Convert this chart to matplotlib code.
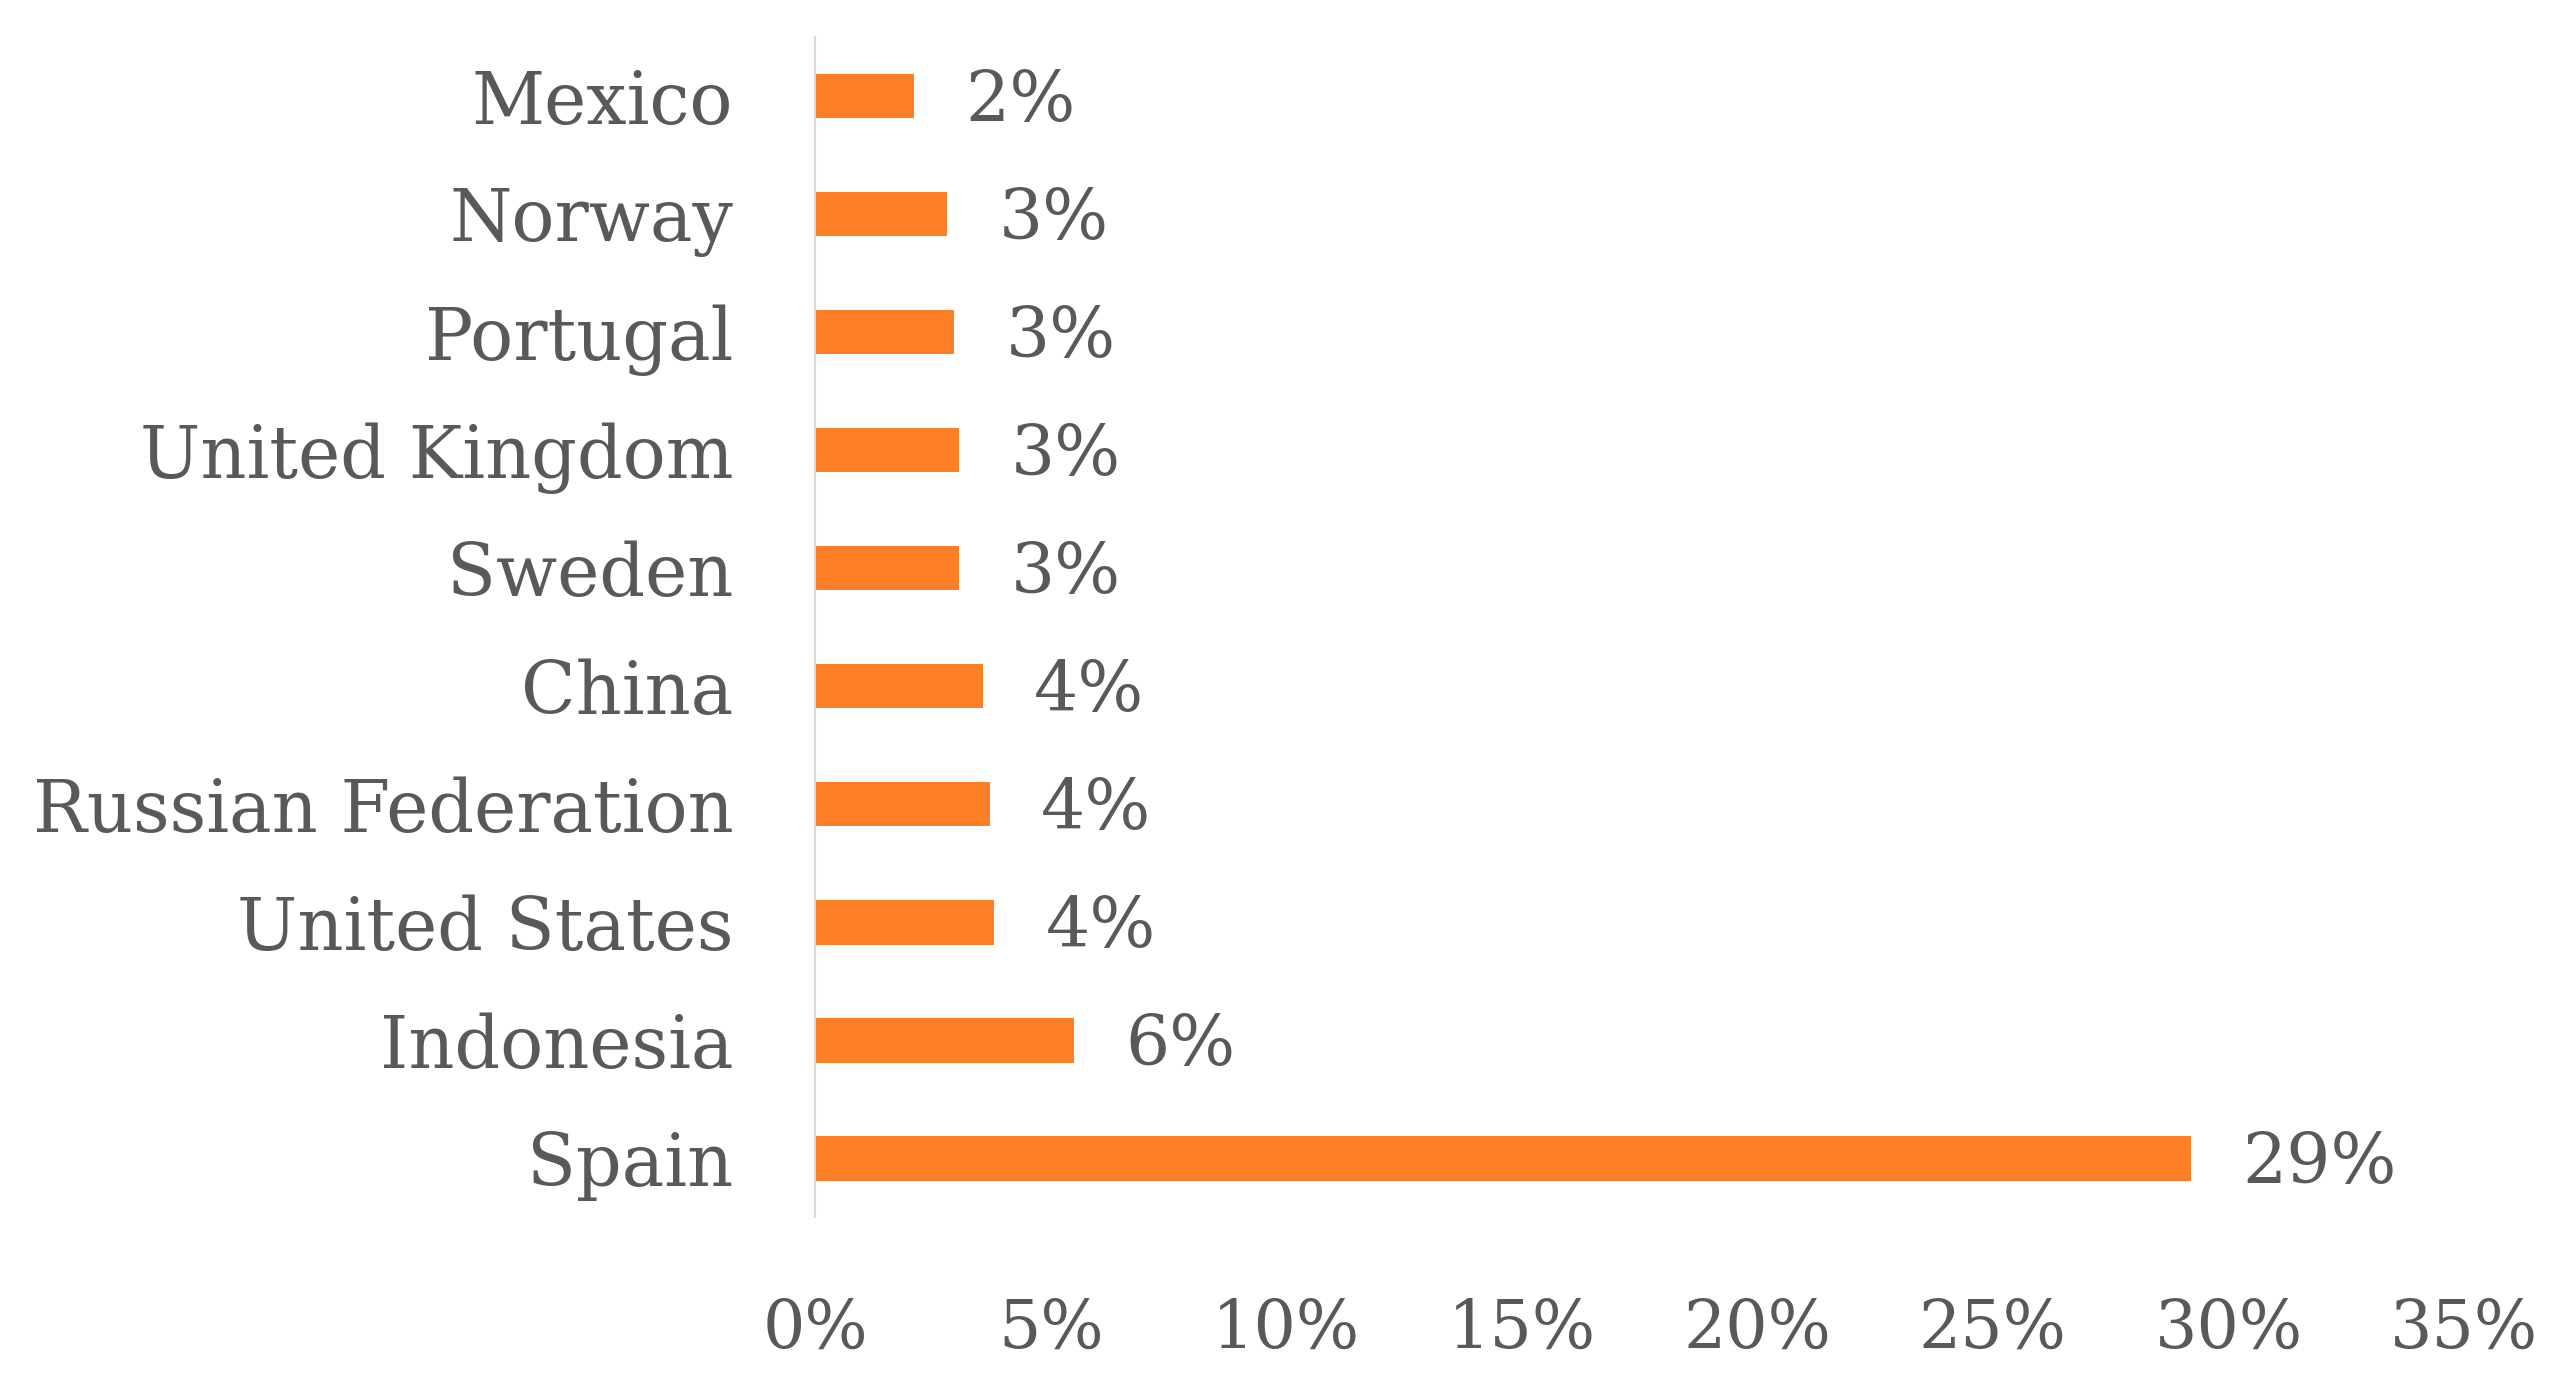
import matplotlib
matplotlib.use("Agg")
import matplotlib.pyplot as plt
from matplotlib.ticker import FuncFormatter

# data (top to bottom as shown)
countries = ["Mexico", "Norway", "Portugal", "United Kingdom", "Sweden",
             "China", "Russian Federation", "United States", "Indonesia", "Spain"]
shares = [2.1, 2.8, 2.95, 3.05, 3.05, 3.55, 3.7, 3.8, 5.5, 29.2]
labels = ["2%", "3%", "3%", "3%", "3%", "4%", "4%", "4%", "6%", "29%"]
xticks = [0, 5, 10, 15, 20, 25, 30, 35]

bar_color = "#FF7F27"
text_color = "#595959"

plt.rcParams["font.family"] = ["DejaVu Serif"]

fig = plt.figure(figsize=(25.72, 13.99), dpi=100)
ax = fig.add_axes([0.317, 0.130, 0.641, 0.8436])

ypos = list(range(len(countries)))
ax.barh(ypos, shares, height=0.38, color=bar_color)

# data labels to the right of each bar
for y, v, lab in zip(ypos, shares, labels):
    ax.annotate(lab, xy=(v, y), xytext=(37, -4), textcoords="offset points",
                ha="left", va="center", fontsize=50, color=text_color)

ax.set_ylim(len(countries) - 0.5, -0.5)
ax.set_xlim(0, 35)
ax.set_yticks(ypos)
ax.set_yticklabels(countries)
ax.set_xticks(xticks)
ax.xaxis.set_major_formatter(FuncFormatter(lambda v, p: f"{v:.0f}%"))

ax.tick_params(axis="y", length=0, pad=59, labelsize=51.5, labelcolor=text_color)
ax.tick_params(axis="x", length=0, pad=57, labelsize=48, labelcolor=text_color)

for side in ["top", "right", "bottom"]:
    ax.spines[side].set_visible(False)
ax.spines["left"].set_color("#D9D9D9")
ax.spines["left"].set_linewidth(1.5)

fig.savefig("out.png", dpi=100)
